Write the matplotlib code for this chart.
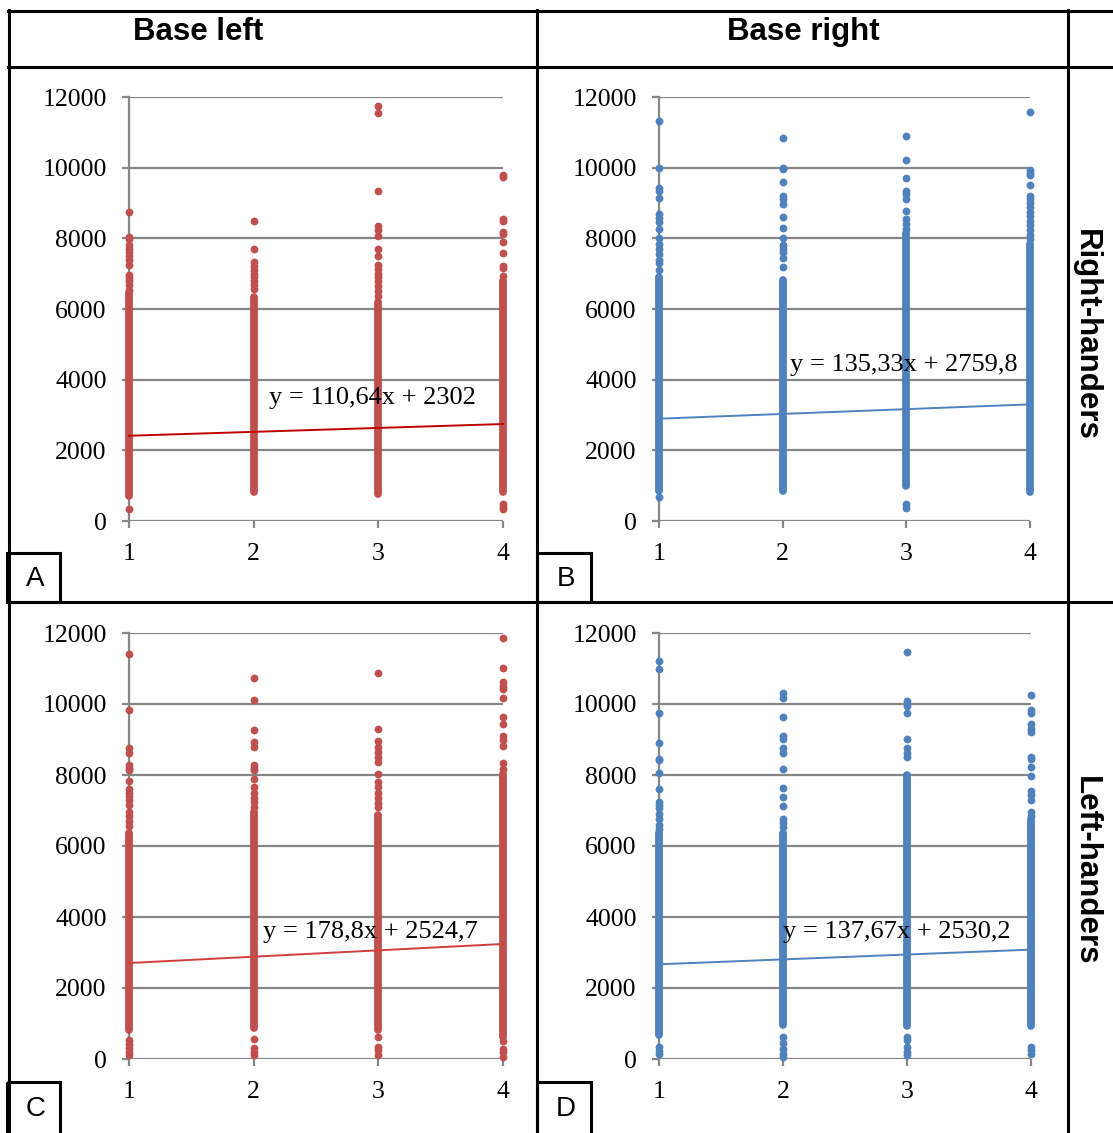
import matplotlib
matplotlib.use("Agg")
import matplotlib.pyplot as plt
from matplotlib.lines import Line2D
from matplotlib.patches import Rectangle

# ---------------- data ----------------
x_groups = [1, 2, 3, 4]
y_ticks = [0, 2000, 4000, 6000, 8000, 10000, 12000]
col_titles = ["Base left", "Base right"]
row_titles = ["Right-handers", "Left-handers"]
panel_letters = ["A", "B", "C", "D"]

slopes = [110.64, 135.33, 178.8, 137.67]
intercepts = [2302, 2759.8, 2524.7, 2530.2]

# dense (continuous-looking) part of each column: low / high per x group
band_low_A = [720, 810, 760, 810]
band_high_A = [6450, 6350, 6200, 6800]
band_low_B = [850, 860, 1000, 810]
band_high_B = [6900, 6830, 8140, 7830]
band_low_C = [830, 880, 830, 630]
band_high_C = [6380, 6960, 6870, 8040]
band_low_D = [680, 970, 925, 925]
band_high_D = [6380, 6380, 7990, 6770]

# sparse points per x group
sparse_A = [
    [8750, 8050, 7980, 7800, 7700, 7620, 7500, 7380, 7250, 6950, 6880, 6800, 6680, 6550, 350],
    [8500, 7690, 7330, 7230, 7100, 7000, 6900, 6800, 6680, 6560],
    [11750, 11550, 9330, 8350, 8250, 8070, 7690, 7500, 7250, 7120, 7000, 6900, 6800, 6650, 6500, 6380],
    [9800, 9750, 8560, 8500, 8180, 8120, 7900, 7590, 7210, 7150, 6920, 480, 400, 330],
]
sparse_B = [
    [11310, 10000, 9420, 9330, 9150, 8690, 8580, 8450, 8260, 8000, 7850, 7700, 7550, 7400, 7300, 7100, 670],
    [10850, 10000, 9960, 9590, 9210, 9100, 8980, 8590, 8290, 8020, 7800, 7700, 7600, 7450, 7190],
    [10910, 10230, 9710, 9350, 9250, 9120, 8780, 8540, 8400, 8260, 480, 380],
    [11570, 9930, 9850, 9790, 9520, 9210, 9100, 9000, 8880, 8750, 8620, 8500, 8380, 8250, 8100, 7980],
]
sparse_C = [
    [11420, 9840, 8750, 8620, 8280, 8200, 8130, 7840, 7600, 7500, 7420, 7300, 7160, 6960, 6850, 6700, 6550,
     540, 420, 300, 200, 100],
    [10740, 10110, 9280, 8930, 8800, 8280, 8200, 8130, 7890, 7650, 7500, 7350, 7250, 7110, 565, 300, 200, 100],
    [10880, 9290, 8960, 8800, 8650, 8500, 8380, 8040, 7790, 7650, 7500, 7350, 7200, 7100, 630, 340, 250, 100],
    [11860, 11020, 10610, 10500, 10420, 10180, 9640, 9450, 9100, 9000, 8810, 8330, 8180, 500, 290, 200, 50],
]
sparse_D = [
    [11200, 11000, 9760, 8910, 8450, 8420, 8050, 7600, 7250, 7160, 7060, 6900, 6750, 6600, 6480, 340, 230, 150],
    [10300, 10180, 9640, 9100, 9010, 8770, 8620, 8180, 7630, 7380, 7140, 6770, 6650, 6530, 630, 440, 290, 150, 50],
    [11470, 10080, 9940, 9740, 9010, 8770, 8620, 8520, 630, 540, 340, 200, 100],
    [10260, 9840, 9740, 9450, 9300, 9200, 8520, 8460, 8230, 7970, 7550, 7450, 7300, 6960, 6850, 340, 250, 150],
]

band_lows = [band_low_A, band_low_B, band_low_C, band_low_D]
band_highs = [band_high_A, band_high_B, band_high_C, band_high_D]
sparses = [sparse_A, sparse_B, sparse_C, sparse_D]

# ---------------- style ----------------
W, H = 1113, 1133
RED = "#C0504D"
BLUE = "#4F81BD"
dot_colors = [RED, BLUE, RED, BLUE]
trend_colors = ["#C00000", "#4F81BD", "#D0403C", "#4F81BD"]
GRID = "#868686"
SERIF = ["Liberation Serif", "DejaVu Serif"]
SANS = ["Liberation Sans", "DejaVu Sans"]

# axes pixel boxes: (x at 1, x at 4, y at 0, y at 12000)
boxes = [(129, 503, 521, 97), (659, 1030, 521, 97),
         (129, 503, 1059, 633), (659, 1031, 1059, 633)]
eq_pos = [(269, 398), (790, 365), (263, 932), (783, 932)]
letter_boxes = [(7, 553, 60, 602), (537, 553, 591, 602),
                (7, 1082, 60, 1140), (537, 1082, 591, 1140)]

fig = plt.figure(figsize=(W / 100, H / 100), dpi=100)

def fx(x):
    return x / W

def fy(y):
    return 1 - y / H

dot_px = 7.8
dot_pt = dot_px * 72 / 100

for i in range(4):
    x0, x1, y0, y1 = boxes[i]
    ax = fig.add_axes([fx(x0), fy(y0), (x1 - x0) / W, (y0 - y1) / H])
    ax.set_xlim(1, 4)
    ax.set_ylim(0, 12000)
    ax.set_xticks(x_groups)
    ax.set_yticks(y_ticks)
    ax.set_xticklabels([str(v) for v in x_groups])
    ax.set_yticklabels([str(v) for v in y_ticks])
    for sp in ["top", "right", "bottom"]:
        ax.spines[sp].set_visible(False)
    ax.spines["left"].set_color(GRID)
    ax.spines["left"].set_linewidth(1.6)
    ax.grid(axis="y", color=GRID, linewidth=1.6)
    ax.set_axisbelow(True)
    ax.tick_params(axis="both", direction="out", length=5, width=1.6, color=GRID,
                   labelsize=18.5, pad=11)
    for lab in ax.get_xticklabels() + ax.get_yticklabels():
        lab.set_fontfamily(SERIF)
    ax.patch.set_alpha(0)

    # dense bands
    ax.vlines(x_groups, band_lows[i], band_highs[i], colors=dot_colors[i],
              linewidth=dot_pt, capstyle="round", clip_on=False, zorder=3)
    # sparse points
    xs, ys = [], []
    for g, vals in zip(x_groups, sparses[i]):
        xs += [g] * len(vals)
        ys += vals
    ax.scatter(xs, ys, s=dot_pt ** 2, color=dot_colors[i], linewidths=0,
               clip_on=False, zorder=3)
    # trend line
    tx = [x_groups[0], x_groups[-1]]
    ty = [slopes[i] * v + intercepts[i] for v in tx]
    ax.plot(tx, ty, color=trend_colors[i], linewidth=1.4, zorder=4, clip_on=False)

    s_txt = f"{slopes[i]:g}".replace(".", ",")
    b_txt = f"{intercepts[i]:g}".replace(".", ",")
    ex, ey = eq_pos[i]
    fig.text(fx(ex), fy(ey), f"y = {s_txt}x + {b_txt}", fontsize=19,
             family=SERIF, ha="left", va="center", zorder=10)

# ---------------- table frame ----------------
bg = fig.add_axes([0, 0, 1, 1])
bg.set_xlim(0, W)
bg.set_ylim(H, 0)
bg.axis("off")
bg.patch.set_alpha(0)
LW = 2.2
def hline(y, xa, xb):
    bg.add_line(Line2D([xa, xb], [y, y], color="black", linewidth=LW))
def vline(x, ya, yb):
    bg.add_line(Line2D([x, x], [ya, yb], color="black", linewidth=LW))

hline(11, 8, W)
hline(67, 8, W)
hline(602, 8, W)
vline(9, 10, H)
vline(537, 10, H)
vline(1068, 10, H)

for (a, b, c, d), letter in zip(letter_boxes, panel_letters):
    bg.add_patch(Rectangle((a, b), c - a, d - b, fill=False, edgecolor="black",
                           linewidth=LW))
    bg.text((a + c) / 2 + 2, 579 if b < 600 else 1109, letter, fontsize=20,
            family=SANS, ha="center", va="center")

bg.text(198, 32, col_titles[0], fontsize=22.5, fontweight="bold", family=SANS,
        ha="center", va="center")
bg.text(803, 32, col_titles[1], fontsize=22.5, fontweight="bold", family=SANS,
        ha="center", va="center")
bg.text(1086, 335, row_titles[0], fontsize=22.5, fontweight="bold", family=SANS,
        ha="center", va="center", rotation=270)
bg.text(1086, 871, row_titles[1], fontsize=22.5, fontweight="bold", family=SANS,
        ha="center", va="center", rotation=270)

fig.savefig("out.png", dpi=100)
